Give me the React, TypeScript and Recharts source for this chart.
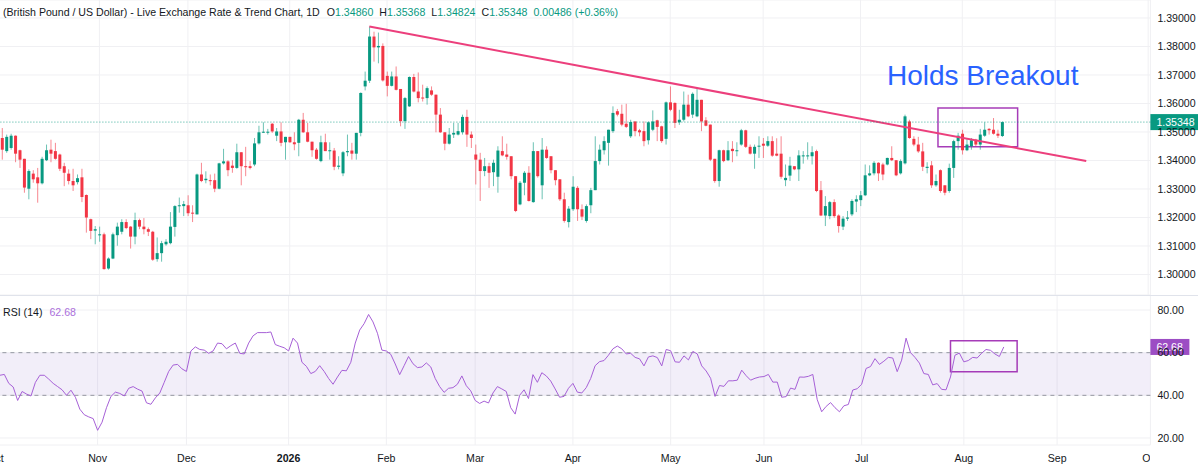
import {
  ComposedChart,
  Bar,
  Line,
  XAxis,
  YAxis,
  CartesianGrid,
  ReferenceLine,
  ReferenceArea
} from "recharts"

// daily candles, [open, high, low, close]; index 0 = 2 Oct 2025
const ohlc: [number, number, number, number][] = [
  [1.3479, 1.3514, 1.3403, 1.3438], [1.3433, 1.3491, 1.3427, 1.3483], [1.3444, 1.3494, 1.3438, 1.3487], [1.3487, 1.3488, 1.3394, 1.3424],
  [1.3436, 1.3438, 1.3374, 1.3403], [1.3406, 1.3406, 1.3287, 1.3305], [1.3301, 1.3369, 1.3264, 1.3363], [1.3354, 1.3366, 1.3322, 1.3334],
  [1.3341, 1.3374, 1.3252, 1.3320], [1.3320, 1.3413, 1.3316, 1.3406], [1.3401, 1.3456, 1.3398, 1.3436], [1.3438, 1.3473, 1.3394, 1.3424],
  [1.3433, 1.3462, 1.3403, 1.3406], [1.3421, 1.3424, 1.3363, 1.3371], [1.3380, 1.3392, 1.3310, 1.3357], [1.3354, 1.3369, 1.3316, 1.3328],
  [1.3328, 1.3371, 1.3293, 1.3313], [1.3324, 1.3351, 1.3316, 1.3338], [1.3341, 1.3371, 1.3254, 1.3272], [1.3279, 1.3281, 1.3147, 1.3200],
  [1.3194, 1.3196, 1.3124, 1.3153], [1.3154, 1.3170, 1.3106, 1.3159], [1.3138, 1.3168, 1.3115, 1.3141], [1.3141, 1.3147, 1.3017, 1.3019],
  [1.3021, 1.3060, 1.3017, 1.3056], [1.3056, 1.3147, 1.3054, 1.3141], [1.3138, 1.3182, 1.3101, 1.3168], [1.3150, 1.3194, 1.3141, 1.3184],
  [1.3184, 1.3194, 1.3159, 1.3163], [1.3168, 1.3170, 1.3091, 1.3133], [1.3133, 1.3217, 1.3106, 1.3191], [1.3191, 1.3196, 1.3159, 1.3168],
  [1.3168, 1.3198, 1.3141, 1.3159], [1.3159, 1.3165, 1.3135, 1.3150], [1.3150, 1.3153, 1.3048, 1.3052], [1.3054, 1.3130, 1.3045, 1.3075],
  [1.3075, 1.3118, 1.3045, 1.3110], [1.3106, 1.3124, 1.3101, 1.3115], [1.3110, 1.3219, 1.3106, 1.3168], [1.3167, 1.3243, 1.3133, 1.3240],
  [1.3240, 1.3270, 1.3217, 1.3243], [1.3240, 1.3258, 1.3205, 1.3247], [1.3243, 1.3278, 1.3205, 1.3215], [1.3217, 1.3243, 1.3184, 1.3215],
  [1.3211, 1.3354, 1.3211, 1.3351], [1.3351, 1.3392, 1.3324, 1.3328], [1.3331, 1.3362, 1.3320, 1.3336], [1.3331, 1.3351, 1.3313, 1.3329],
  [1.3331, 1.3354, 1.3289, 1.3301], [1.3301, 1.3392, 1.3299, 1.3390], [1.3390, 1.3441, 1.3386, 1.3397], [1.3397, 1.3401, 1.3345, 1.3366],
  [1.3382, 1.3401, 1.3357, 1.3374], [1.3374, 1.3459, 1.3371, 1.3429], [1.3429, 1.3429, 1.3313, 1.3380], [1.3380, 1.3448, 1.3345, 1.3378],
  [1.3380, 1.3398, 1.3369, 1.3374], [1.3386, 1.3479, 1.3380, 1.3460], [1.3460, 1.3522, 1.3456, 1.3499], [1.3500, 1.3534, 1.3497, 1.3501],
  [1.3500, 1.3511, 1.3491, 1.3501], [1.3529, 1.3532, 1.3497, 1.3502], [1.3487, 1.3514, 1.3468, 1.3502], [1.3502, 1.3534, 1.3450, 1.3462],
  [1.3464, 1.3483, 1.3403, 1.3483], [1.3483, 1.3483, 1.3462, 1.3464], [1.3464, 1.3499, 1.3436, 1.3457], [1.3462, 1.3546, 1.3415, 1.3543],
  [1.3543, 1.3567, 1.3497, 1.3499], [1.3499, 1.3532, 1.3464, 1.3466], [1.3466, 1.3466, 1.3413, 1.3436], [1.3438, 1.3444, 1.3403, 1.3406],
  [1.3398, 1.3487, 1.3394, 1.3464], [1.3464, 1.3494, 1.3433, 1.3433], [1.3434, 1.3464, 1.3403, 1.3436], [1.3435, 1.3444, 1.3366, 1.3378],
  [1.3378, 1.3415, 1.3369, 1.3382], [1.3355, 1.3433, 1.3345, 1.3429], [1.3429, 1.3491, 1.3415, 1.3433], [1.3435, 1.3462, 1.3403, 1.3424],
  [1.3424, 1.3497, 1.3403, 1.3497], [1.3497, 1.3639, 1.3485, 1.3637], [1.3660, 1.3712, 1.3646, 1.3680], [1.3680, 1.3870, 1.3672, 1.3835],
  [1.3835, 1.3852, 1.3747, 1.3797], [1.3797, 1.3849, 1.3741, 1.3802], [1.3802, 1.3811, 1.3677, 1.3681], [1.3697, 1.3712, 1.3625, 1.3662],
  [1.3662, 1.3712, 1.3660, 1.3695], [1.3695, 1.3730, 1.3646, 1.3648], [1.3651, 1.3651, 1.3520, 1.3538], [1.3538, 1.3623, 1.3511, 1.3619],
  [1.3590, 1.3695, 1.3588, 1.3693], [1.3693, 1.3704, 1.3639, 1.3642], [1.3642, 1.3709, 1.3604, 1.3619], [1.3621, 1.3666, 1.3607, 1.3618],
  [1.3619, 1.3660, 1.3596, 1.3654], [1.3646, 1.3660, 1.3627, 1.3631], [1.3631, 1.3631, 1.3499, 1.3561], [1.3561, 1.3584, 1.3497, 1.3499],
  [1.3499, 1.3499, 1.3436, 1.3459], [1.3459, 1.3514, 1.3456, 1.3491], [1.3491, 1.3532, 1.3479, 1.3497], [1.3491, 1.3532, 1.3488, 1.3503],
  [1.3499, 1.3561, 1.3491, 1.3553], [1.3553, 1.3578, 1.3448, 1.3491], [1.3491, 1.3502, 1.3444, 1.3479], [1.3421, 1.3456, 1.3316, 1.3403],
  [1.3403, 1.3427, 1.3258, 1.3363], [1.3363, 1.3409, 1.3345, 1.3380], [1.3380, 1.3392, 1.3304, 1.3357], [1.3359, 1.3403, 1.3310, 1.3392],
  [1.3343, 1.3450, 1.3287, 1.3435], [1.3433, 1.3485, 1.3415, 1.3418], [1.3421, 1.3459, 1.3403, 1.3413], [1.3415, 1.3415, 1.3334, 1.3345],
  [1.3345, 1.3345, 1.3219, 1.3223], [1.3246, 1.3328, 1.3243, 1.3322], [1.3322, 1.3363, 1.3278, 1.3357], [1.3357, 1.3380, 1.3256, 1.3258],
  [1.3254, 1.3464, 1.3252, 1.3433], [1.3433, 1.3433, 1.3340, 1.3345], [1.3313, 1.3479, 1.3264, 1.3438], [1.3438, 1.3450, 1.3406, 1.3409],
  [1.3415, 1.3415, 1.3355, 1.3366], [1.3366, 1.3366, 1.3313, 1.3331], [1.3334, 1.3334, 1.3258, 1.3264], [1.3264, 1.3287, 1.3182, 1.3188],
  [1.3184, 1.3240, 1.3165, 1.3231], [1.3229, 1.3345, 1.3223, 1.3308], [1.3304, 1.3310, 1.3188, 1.3229], [1.3229, 1.3246, 1.3191, 1.3203],
  [1.3188, 1.3246, 1.3182, 1.3240], [1.3243, 1.3304, 1.3215, 1.3296], [1.3296, 1.3485, 1.3296, 1.3398], [1.3398, 1.3456, 1.3386, 1.3438],
  [1.3436, 1.3485, 1.3421, 1.3468], [1.3462, 1.3508, 1.3382, 1.3508], [1.3503, 1.3590, 1.3497, 1.3567], [1.3573, 1.3581, 1.3555, 1.3561],
  [1.3564, 1.3596, 1.3520, 1.3526], [1.3529, 1.3599, 1.3514, 1.3518], [1.3485, 1.3543, 1.3479, 1.3535], [1.3537, 1.3537, 1.3485, 1.3503],
  [1.3506, 1.3511, 1.3485, 1.3499], [1.3503, 1.3537, 1.3450, 1.3468], [1.3471, 1.3537, 1.3456, 1.3534], [1.3508, 1.3576, 1.3503, 1.3537],
  [1.3541, 1.3543, 1.3468, 1.3518], [1.3520, 1.3522, 1.3462, 1.3468], [1.3476, 1.3607, 1.3456, 1.3604], [1.3604, 1.3660, 1.3573, 1.3578],
  [1.3602, 1.3604, 1.3514, 1.3532], [1.3534, 1.3578, 1.3525, 1.3543], [1.3543, 1.3642, 1.3537, 1.3596], [1.3596, 1.3631, 1.3552, 1.3555],
  [1.3561, 1.3639, 1.3549, 1.3634], [1.3555, 1.3654, 1.3552, 1.3613], [1.3613, 1.3613, 1.3503, 1.3537], [1.3541, 1.3552, 1.3520, 1.3522],
  [1.3526, 1.3526, 1.3398, 1.3403], [1.3406, 1.3406, 1.3322, 1.3328], [1.3328, 1.3438, 1.3308, 1.3436], [1.3436, 1.3438, 1.3394, 1.3398],
  [1.3401, 1.3468, 1.3398, 1.3436], [1.3441, 1.3468, 1.3394, 1.3433], [1.3434, 1.3464, 1.3415, 1.3436], [1.3456, 1.3511, 1.3452, 1.3506],
  [1.3506, 1.3508, 1.3444, 1.3448], [1.3448, 1.3456, 1.3421, 1.3424], [1.3424, 1.3456, 1.3371, 1.3448], [1.3450, 1.3485, 1.3409, 1.3452],
  [1.3459, 1.3479, 1.3409, 1.3452], [1.3452, 1.3485, 1.3448, 1.3468], [1.3468, 1.3485, 1.3413, 1.3417], [1.3424, 1.3478, 1.3415, 1.3417],
  [1.3424, 1.3485, 1.3336, 1.3343], [1.3331, 1.3386, 1.3310, 1.3339], [1.3347, 1.3413, 1.3328, 1.3382], [1.3380, 1.3380, 1.3366, 1.3369],
  [1.3369, 1.3436, 1.3328, 1.3418], [1.3415, 1.3433, 1.3389, 1.3418], [1.3415, 1.3464, 1.3403, 1.3418], [1.3415, 1.3450, 1.3386, 1.3429],
  [1.3433, 1.3438, 1.3289, 1.3293], [1.3296, 1.3328, 1.3205, 1.3207], [1.3207, 1.3275, 1.3170, 1.3240], [1.3205, 1.3258, 1.3194, 1.3254],
  [1.3254, 1.3264, 1.3199, 1.3205], [1.3207, 1.3211, 1.3147, 1.3170], [1.3168, 1.3205, 1.3156, 1.3196], [1.3196, 1.3223, 1.3188, 1.3200],
  [1.3211, 1.3264, 1.3205, 1.3258], [1.3256, 1.3278, 1.3219, 1.3264], [1.3261, 1.3293, 1.3240, 1.3278], [1.3278, 1.3386, 1.3275, 1.3348],
  [1.3348, 1.3383, 1.3345, 1.3355], [1.3355, 1.3398, 1.3348, 1.3392], [1.3392, 1.3394, 1.3328, 1.3355], [1.3386, 1.3392, 1.3331, 1.3351],
  [1.3386, 1.3410, 1.3383, 1.3409], [1.3409, 1.3450, 1.3398, 1.3401], [1.3401, 1.3401, 1.3345, 1.3348], [1.3355, 1.3404, 1.3351, 1.3398],
  [1.3390, 1.3561, 1.3386, 1.3555], [1.3537, 1.3543, 1.3476, 1.3479], [1.3476, 1.3485, 1.3450, 1.3456], [1.3456, 1.3483, 1.3427, 1.3432],
  [1.3432, 1.3462, 1.3363, 1.3378], [1.3374, 1.3394, 1.3355, 1.3378], [1.3383, 1.3398, 1.3304, 1.3313], [1.3313, 1.3351, 1.3308, 1.3328],
  [1.3366, 1.3369, 1.3287, 1.3293], [1.3313, 1.3313, 1.3278, 1.3287], [1.3293, 1.3389, 1.3287, 1.3374], [1.3374, 1.3473, 1.3339, 1.3468],
  [1.3468, 1.3497, 1.3438, 1.3487], [1.3494, 1.3508, 1.3421, 1.3436], [1.3436, 1.3476, 1.3433, 1.3456], [1.3450, 1.3479, 1.3438, 1.3471],
  [1.3473, 1.3476, 1.3450, 1.3456], [1.3456, 1.3511, 1.3438, 1.3491], [1.3487, 1.3534, 1.3483, 1.3508], [1.3511, 1.3514, 1.3491, 1.3506],
  [1.3508, 1.3549, 1.3491, 1.3494], [1.3494, 1.3508, 1.3479, 1.3487], [1.3486, 1.35368, 1.34824, 1.35348]
]

// RSI(14), one value per candle
const rsi: number[] = [
  49.4, 49.8, 45.6, 43.9, 37.6, 41.8, 40.6, 39.7, 46.1, 49.4,
  49.4, 47.6, 45.6, 44.1, 42.6, 40.0, 42.4, 39.1, 33.5, 30.9,
  29.9, 29.1, 23.6, 27.4, 34.2, 39.5, 41.5, 40.9, 39.7, 43.3,
  44.1, 42.9, 42.0, 36.5, 35.8, 38.8, 41.1, 46.1, 51.2, 54.2,
  54.5, 52.4, 51.2, 60.8, 62.7, 61.5, 61.2, 59.7, 60.8, 64.5,
  64.2, 61.8, 63.3, 64.5, 59.7, 59.4, 64.5, 67.9, 69.4, 69.4,
  69.4, 69.7, 63.8, 63.0, 62.3, 60.8, 66.8, 64.5, 55.5, 53.6,
  50.2, 51.2, 53.9, 51.2, 47.9, 45.2, 48.6, 51.7, 51.5, 55.5,
  64.5, 70.6, 73.6, 77.9, 74.4, 69.1, 61.2, 60.8, 59.2, 54.7,
  49.7, 53.9, 58.2, 54.8, 53.0, 53.3, 55.2, 53.3, 47.9, 44.1,
  41.4, 43.3, 43.6, 45.2, 49.1, 44.5, 42.1, 37.6, 36.2, 37.3,
  36.4, 41.1, 44.1, 43.0, 41.8, 34.2, 31.2, 40.0, 42.6, 38.5,
  49.7, 46.1, 50.6, 49.1, 46.7, 43.0, 39.1, 39.5, 43.3, 45.6,
  41.5, 41.1, 43.6, 47.9, 53.9, 55.8,
  56.3, 58.8, 61.8, 63.1, 61.8, 59.4, 59.7, 57.8, 57.1, 53.8,
  58.0, 58.5, 57.7, 53.8, 61.5, 60.9, 55.7, 55.5, 58.5, 56.6,
  60.6, 59.4, 53.8, 51.4, 48.0, 39.5, 44.6, 44.2, 46.8, 46.8,
  47.1, 51.8, 49.2, 47.1, 48.0, 48.6, 48.8, 49.8, 46.2, 46.2,
  39.1, 39.4, 43.4, 42.8, 48.6, 48.5, 48.9, 49.8, 38.0, 32.3,
  34.8, 36.6, 34.2, 32.3, 35.1, 35.7, 42.5, 43.1, 45.2, 52.6,
  53.5, 57.2, 54.5, 56.0, 57.8, 57.5, 51.1, 56.5, 66.8, 60.0,
  57.8, 55.1, 50.2, 49.8, 44.9, 45.5, 42.8, 42.6, 48.6, 58.8,
  59.8, 55.7, 56.3, 57.8, 57.5, 59.7, 61.5, 61.1, 59.4, 58.2, 62.68
]

const monthTicks = [
  { idx: -1, label: "Oct" }, { idx: 22, label: "Nov" }, { idx: 42, label: "Dec" },
  { idx: 65, label: "2026" }, { idx: 87, label: "Feb" }, { idx: 107, label: "Mar" },
  { idx: 129, label: "Apr" }, { idx: 151, label: "May" }, { idx: 172, label: "Jun" },
  { idx: 194, label: "Jul" }, { idx: 217, label: "Aug" }, { idx: 238, label: "Sep" },
  { idx: 259, label: "Oct" }
]
const priceTicks = [1.3, 1.31, 1.32, 1.33, 1.34, 1.35, 1.36, 1.37, 1.38, 1.39]
const rsiTicks = [20, 40, 60, 80]
const headerValues = [["O", "1.34860"], ["H", "1.35368"], ["L", "1.34824"], ["C", "1.35348"]]
const change = "0.00486 (+0.36%)"
const lastClose = 1.35348
const lastRsi = 62.68

// trend line from the late-January high, and the two "breakout" boxes
const trendStart = { x: 83, y: 1.387 }
const trendEnd = { x: 245, y: 1.3398 }
const priceBox = { x1: 212, x2: 229, y1: 1.34479, y2: 1.35843 }
const rsiBox = { x1: 214, x2: 229, y1: 51.1, y2: 65.6 }

const firstSlot = -2
const lastSlot = 259

const slots: any[] = []
for (let i = firstSlot; i <= lastSlot; i++) {
  const k = ohlc[i]
  if (k) {
    slots.push({ idx: i, open: k[0], high: k[1], low: k[2], close: k[3], range: [k[2], k[1]], rsi: rsi[i] })
  } else {
    slots.push({ idx: i, range: null, rsi: null })
  }
}

const FONT = "'Liberation Sans', Arial, sans-serif"
const UP = "#089981"
const DOWN = "#f23645"
const PURPLE = "#9c27b0"
const GRID = "#f0f0f3"
const SHIFT = 9.4
const W = 1198 + SHIFT
const AXIS_W = 48

function Candle(props: any) {
  const { x, y, width, height, payload } = props
  if (!payload || payload.high == null) return null
  const { open, high, low, close } = payload
  const top = Math.min(y, y + height)
  const span = Math.abs(height)
  const k = high === low ? 0 : span / (high - low)
  const yOf = (v: number) => top + (high - v) * k
  const color = close >= open ? UP : DOWN
  const cx = x + width / 2
  const bw = 3
  const bodyTop = yOf(Math.max(open, close))
  const bodyH = Math.max(1, Math.abs(yOf(open) - yOf(close)))
  return (
    <g>
      <line x1={cx} x2={cx} y1={top} y2={top + span} stroke={color} strokeWidth={1} strokeOpacity={0.6} />
      <rect x={cx - bw / 2} y={bodyTop} width={bw} height={bodyH} fill={color} />
    </g>
  )
}

function SideTag(props: any) {
  const { viewBox, text, color, w } = props
  if (!viewBox) return null
  const x = viewBox.x + viewBox.width
  const y = viewBox.y
  return (
    <g>
      <rect x={x} y={y - 8} width={w} height={16} fill={color} />
      <text x={x + 6} y={y + 4} fill="#fff" fontSize={10.6} fontFamily={FONT}>{text}</text>
    </g>
  )
}

function MonthTick(props: any) {
  const { x, y, payload } = props
  const t = monthTicks.find(m => m.idx === payload.value)
  const label = t ? t.label : ""
  return (
    <text x={x} y={y + 9} textAnchor="middle" fontSize={10.6} fontFamily={FONT}
      fill="#131722" fontWeight={label === "2026" ? 700 : 400}>
      {label}
    </text>
  )
}

const tickIdx = monthTicks.map(m => m.idx)

export default function App() {
  return (
    <div style={{ position: "relative", width: 1198, height: 467, overflow: "hidden", background: "#fff", fontFamily: FONT }}>
      <style>{"body{margin:0}"}</style>

      <div style={{ position: "absolute", left: -SHIFT, top: 0 }}>
        <ComposedChart width={W} height={295} data={slots} margin={{ top: 0, right: 0, bottom: 0, left: 0 }} barCategoryGap="10%">
          <CartesianGrid stroke={GRID} />
          <XAxis dataKey="idx" ticks={tickIdx} interval={0} hide />
          <YAxis
            orientation="right"
            width={AXIS_W}
            domain={[1.29281, 1.39632]}
            allowDataOverflow
            ticks={priceTicks}
            tickFormatter={(v: number) => v.toFixed(5)}
            axisLine={false}
            tickLine={false}
            tickSize={0}
            tickMargin={7}
            tick={{ fontSize: 10.6, fill: "#131722", fontFamily: FONT }}
          />
          <Bar dataKey="range" shape={Candle} isAnimationActive={false} />
          <ReferenceLine
            segment={[trendStart, trendEnd]}
            stroke="#ec3f7c"
            strokeWidth={2}
          />
          <ReferenceArea
            x1={priceBox.x1}
            x2={priceBox.x2}
            y1={priceBox.y1}
            y2={priceBox.y2}
            fill="none"
            stroke={PURPLE}
            strokeWidth={1.5}
            strokeOpacity={0.9}
          />
          <ReferenceLine
            y={lastClose}
            stroke={UP}
            strokeDasharray="1 2"
            strokeOpacity={0.8}
            label={(p: any) => <SideTag {...p} text={lastClose.toFixed(5)} color={UP} w={48} />}
          />
        </ComposedChart>
      </div>

      <div style={{ position: "absolute", left: -SHIFT, top: 295 }}>
        <ComposedChart width={W} height={172} data={slots} margin={{ top: 0, right: 0, bottom: 0, left: 0 }}>
          <CartesianGrid stroke={GRID} />
          <XAxis
            dataKey="idx"
            ticks={tickIdx}
            interval={0}
            height={22}
            axisLine={false}
            tickLine={false}
            tick={<MonthTick />}
          />
          <YAxis
            orientation="right"
            width={AXIS_W}
            domain={[16.72, 87.03]}
            allowDataOverflow
            ticks={rsiTicks}
            tickFormatter={(v: number) => v.toFixed(2)}
            axisLine={false}
            tickLine={false}
            tickSize={0}
            tickMargin={7}
            tick={{ fontSize: 10.6, fill: "#131722", fontFamily: FONT }}
          />
          <ReferenceArea y1={40} y2={60} fill="#7e57c2" fillOpacity={0.1} stroke="none" />
          <ReferenceLine y={60} stroke="#9598a1" strokeDasharray="4 4" />
          <ReferenceLine y={40} stroke="#9598a1" strokeDasharray="4 4" />
          <Line
            type="linear"
            dataKey="rsi"
            stroke="#a65fd6"
            strokeWidth={1}
            dot={false}
            isAnimationActive={false}
          />
          <ReferenceArea
            x1={rsiBox.x1}
            x2={rsiBox.x2}
            y1={rsiBox.y1}
            y2={rsiBox.y2}
            fill="none"
            stroke={PURPLE}
            strokeWidth={1.5}
            strokeOpacity={0.9}
          />
          <ReferenceLine
            y={lastRsi}
            stroke="none"
            label={(p: any) => <SideTag {...p} text={lastRsi.toFixed(2)} color="#9c4dc4" w={39} />}
          />
        </ComposedChart>
      </div>

      <div style={{ position: "absolute", left: 1150, top: 447, width: 48, height: 20, background: "#fff" }} />
      <div style={{ position: "absolute", left: 0, top: 295, width: 1198, height: 1, background: "#e0e3eb" }} />

      <svg width={1198} height={467} style={{ position: "absolute", left: 0, top: 0, pointerEvents: "none" }}>
        <text x={3} y={15.5} fontSize={10.6} fontFamily={FONT} fill="#131722">
          (British Pound / US Dollar) - Live Exchange Rate &amp; Trend Chart, 1D
          {headerValues.map(([k, v], i) => (
            <tspan key={k} dx={i === 0 ? 7 : 6}>
              {k}<tspan fill={UP}>{v}</tspan>
            </tspan>
          ))}
          <tspan dx={6} fill={UP}>{change}</tspan>
        </text>
        <text x={887} y={85} fontSize={28} fontFamily={FONT} fill="#2962ff">Holds Breakout</text>
        <text x={3} y={316} fontSize={10.6} fontFamily={FONT} fill="#131722">
          RSI (14)<tspan dx={7} fill="#ab6fdb">62.68</tspan>
        </text>
      </svg>
    </div>
  )
}
